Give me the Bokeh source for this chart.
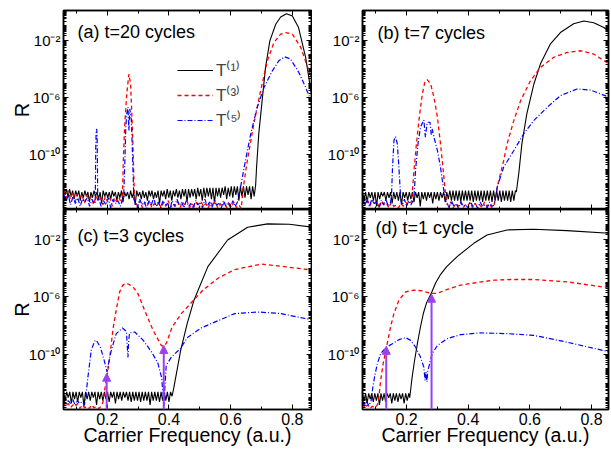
import numpy as np
from bokeh.plotting import figure
from bokeh.layouts import gridplot
from bokeh.models import (Range1d, FixedTicker, CustomJSTickFormatter, LinearAxis, LogAxis,
                          Legend, LegendItem, Label, Arrow, NormalHead, ColumnDataSource)
from bokeh.embed import file_html
from bokeh.resources import INLINE

# ---------------- data (log10 R values) ----------------
x_major_ticks = [0.2, 0.4, 0.6, 0.8]
x_minor_ticks = [0.1, 0.3, 0.5, 0.7]
y_major_exps = [-2, -6, -10]
panel_titles = ["(a) t=20 cycles", "(b) t=7 cycles", "(c) t=3 cycles", "(d) t=1 cycle"]
legend_labels = ["T\u207d\u00b9\u207e", "T\u207d\u00b3\u207e", "T\u207d\u2075\u207e"]
x_title = "Carrier Frequency (a.u.)"
y_title = "R"

# panel (a) t=20 cycles
A1_span = (0.058, 0.681)
A1_n = [-12.3, -12.8, -12.4, -13.0, -12.4, -12.9, -12.5, -13.1, -12.5, -12.9, -12.5, -13.2, -12.6, -13.0, -12.5, -12.9, -12.6, -13.3,
        -12.6, -13.0, -12.5, -12.9, -12.6, -13.1, -12.6, -13.4, -12.5, -12.9, -12.6, -13.0,
        -12.6, -13.1, -12.5, -12.9, -12.6, -13.2, -12.6, -13.0, -12.5, -13.3, -12.6, -12.9, -12.6, -13.1, -12.5, -13.0, -12.6, -13.5,
        -12.5, -12.9, -12.6, -13.1, -12.5, -13.0, -12.6, -13.2, -12.5, -12.9, -12.5, -13.1,
        -12.6, -13.0, -12.5, -13.4, -12.5, -12.9, -12.5, -13.1, -12.4, -13.0, -12.5, -13.2, -12.5, -12.9, -12.4, -13.0, -12.5, -13.1,
        -12.4, -12.9, -12.4, -13.3,
        -12.4, -13.0, -12.4, -12.9, -12.4, -13.1, -12.3, -12.9, -12.4, -13.2, -12.3, -13.0, -12.3, -12.9, -12.3, -13.1, -12.3, -13.4,
        -12.3, -12.9, -12.3, -13.0, -12.3, -12.8, -12.2, -13.1, -12.3, -12.9, -12.2, -13.0, -12.2, -12.8, -12.2, -13.2, -12.2, -12.9,
        -12.2, -13.0, -12.2, -12.8, -12.2, -13.1, -12.2, -12.9, -12.1]
A1_x = [0.684, 0.691, 0.702, 0.713, 0.727, 0.746, 0.762, 0.781, 0.800, 0.820, 0.843, 0.865]
A1_y = [-10.86, -8.54, -6.22, -3.90, -2.05, -0.89, -0.38, -0.15, -0.31, -1.12, -3.20, -6.22]

A3_span1 = (0.058, 0.246)
A3_n1 = [-12.4, -13.0, -12.5, -13.1, -12.6, -13.3, -12.7, -13.0, -12.8, -13.4, -12.8, -13.1, -12.9, -13.5, -12.9, -13.2, -13.0, -13.5,
         -12.9, -13.3, -13.0, -13.6, -13.0, -13.3, -13.0, -13.4]
A3_x1 = [0.249, 0.252, 0.256, 0.263, 0.270, 0.2755, 0.279, 0.283, 0.286, 0.288]
A3_y1 = [-13.0, -10.4, -8.1, -5.76, -4.37, -5.06, -6.9, -9.2, -11.56, -12.9]
A3_span2 = (0.291, 0.634)
A3_n2 = [-13.3, -13.6, -13.2, -13.7, -13.3, -13.5, -13.2, -13.7, -13.4, -13.6, -13.3, -13.75, -13.3, -13.6, -13.2, -13.7, -13.4, -13.6,
         -13.3, -13.7, -13.3, -13.5, -13.2, -13.7, -13.4, -13.6, -13.3, -13.75, -13.3, -13.6, -13.4, -13.7, -13.3, -13.6, -13.2, -13.7,
         -13.4, -13.6, -13.3, -13.75, -13.4, -13.6, -13.3, -13.7, -13.5, -13.75]
A3_x2 = [0.641, 0.654, 0.675, 0.697, 0.719, 0.740, 0.762, 0.778, 0.800, 0.827, 0.848, 0.865]
A3_y2 = [-12.25, -10.4, -7.84, -5.53, -3.44, -2.17, -1.58, -1.47, -1.58, -2.5, -3.8, -4.83]

A5_span1 = (0.058, 0.158)
A5_n1 = [-12.7, -13.3, -12.8, -13.5, -12.9, -13.4, -13.0, -13.6, -13.1, -13.3, -13.0, -13.6, -13.1, -13.4]
A5_x1 = [0.161, 0.1625, 0.164, 0.1655, 0.167, 0.168, 0.169]
A5_y1 = [-13.3, -9.5, -8.3, -8.2, -8.6, -10.5, -13.2]
A5_span2 = (0.172, 0.250)
A5_n2 = [-13.0, -13.6, -13.2, -13.5, -13.0, -13.7, -13.1, -13.4, -13.2, -13.6, -13.1]
A5_x2 = [0.253, 0.257, 0.260, 0.263, 0.267, 0.270, 0.273, 0.278, 0.281, 0.284, 0.286]
A5_y2 = [-13.0, -10.4, -8.1, -7.15, -6.69, -8.3, -6.8, -7.6, -9.5, -11.6, -13.1]
A5_span3 = (0.290, 0.622)
A5_n3 = [-13.3, -13.7, -13.1, -13.5, -13.3, -13.75, -13.2, -13.5, -13.0, -13.6, -13.3, -13.7, -13.2, -13.5, -13.4, -13.75, -13.2, -13.6,
         -13.1, -13.5, -13.3, -13.7, -13.2, -13.6, -13.4, -13.75, -13.2, -13.5, -13.3, -13.7, -13.1, -13.6, -13.3, -13.7, -13.2, -13.5,
         -13.4, -13.75, -13.2, -13.6, -13.3, -13.7, -13.2, -13.6, -13.3]
A5_x3 = [0.632, 0.648, 0.665, 0.686, 0.708, 0.735, 0.756, 0.775, 0.794, 0.821, 0.843, 0.865]
A5_y3 = [-12.25, -10.4, -8.54, -6.69, -5.3, -4.14, -3.44, -3.16, -3.32, -4.25, -5.3, -6.45]

# panel (b) t=7 cycles
B1_span = (0.057, 0.553)
B1_n = [-12.6, -13.1, -12.6, -13.3, -12.6, -13.0, -12.6, -13.2, -12.6, -13.6, -12.6, -13.1, -12.6, -12.9, -12.6, -13.2, -12.6, -13.0,
        -12.6, -13.4, -12.6, -13.1, -12.6, -13.2, -12.6, -13.5, -12.6, -13.0, -12.6, -13.2, -12.6, -13.1, -12.6, -13.3, -12.6, -13.0,
        -12.6, -13.6, -12.6, -13.1, -12.6, -13.2, -12.6, -13.0, -12.6, -13.4, -12.6, -13.1, -12.6, -13.2, -12.6, -13.0, -12.6, -13.3,
        -12.6, -13.1, -12.5, -13.2, -12.5, -13.2, -12.5, -13.2, -12.5, -13.3, -12.5, -13.2, -12.5, -13.2, -12.5, -13.2, -12.5, -13.3,
        -12.5, -13.2, -12.5, -13.2, -12.5, -13.3, -12.5, -13.2, -12.5, -13.2, -12.5, -13.3, -12.5, -13.2, -12.5, -13.2, -12.5, -13.3,
        -12.5, -13.2, -12.5, -13.2, -12.5, -13.3, -12.5, -13.2, -12.5]
B1_x = [0.556, 0.564, 0.574, 0.590, 0.613, 0.634, 0.666, 0.699, 0.742, 0.775, 0.807, 0.840, 0.860]
B1_y = [-12.6, -11.3, -9.24, -7.15, -5.06, -3.67, -2.28, -1.47, -0.85, -0.66, -0.78, -1.12, -1.45]

B3_span1 = (0.057, 0.213)
B3_n1 = [-13.0, -13.5, -13.1, -13.6, -13.2, -13.4, -13.3, -13.7, -13.2, -13.5, -13.4, -13.7, -13.3, -13.6, -13.5, -13.7, -13.4, -13.6,
         -13.3, -13.5, -13.3]
B3_x1 = [0.216, 0.224, 0.232, 0.240, 0.251, 0.259, 0.267, 0.278, 0.289, 0.300, 0.310, 0.319, 0.326, 0.332]
B3_y1 = [-13.3, -11.1, -9.24, -7.6, -5.76, -4.95, -4.76, -5.06, -6.0, -7.38, -9.24, -11.1, -12.7, -13.4]
B3_span2 = (0.336, 0.484)
B3_n2 = [-13.6, -13.3, -13.7, -13.4, -13.6, -13.3, -13.7, -13.5, -13.6, -13.3, -13.7, -13.4, -13.6, -13.5, -13.7, -13.3, -13.6, -13.4,
         -13.7, -13.5]
B3_x2 = [0.488, 0.499, 0.515, 0.526, 0.548, 0.570, 0.602, 0.634, 0.677, 0.721, 0.764, 0.807, 0.860]
B3_y2 = [-12.95, -11.8, -10.4, -9.24, -7.6, -6.22, -4.83, -3.9, -3.2, -2.86, -2.74, -2.97, -3.7]

B5_span1 = (0.057, 0.148)
B5_n1 = [-13.0, -13.5, -13.2, -13.6, -13.1, -13.4, -13.3, -13.7, -13.2, -13.5, -13.1, -13.6, -13.3]
B5_x1 = [0.151, 0.154, 0.159, 0.164, 0.170, 0.175, 0.180, 0.183]
B5_y1 = [-12.9, -11.1, -9.0, -8.73, -9.24, -10.86, -12.7, -13.3]
B5_span2 = (0.186, 0.221)
B5_n2 = [-13.5, -13.1, -13.6, -13.2, -13.5, -13.2]
B5_x2 = [0.224, 0.229, 0.237, 0.245, 0.256, 0.261, 0.267, 0.276, 0.280, 0.283, 0.289, 0.300, 0.310, 0.319, 0.326]
B5_y2 = [-13.0, -11.1, -9.24, -8.08, -7.57, -8.78, -7.73, -7.73, -8.6, -8.2, -8.78, -9.7, -10.86, -12.25, -13.1]
B5_span3 = (0.330, 0.485)
B5_n3 = [-13.4, -13.7, -13.2, -13.6, -13.4, -13.75, -13.3, -13.6, -13.5, -13.7, -13.3, -13.6, -13.4, -13.75, -13.3, -13.6, -13.5, -13.7,
         -13.3, -13.6, -13.5]
B5_x3 = [0.494, 0.515, 0.548, 0.580, 0.613, 0.656, 0.699, 0.753, 0.796, 0.860]
B5_y3 = [-12.25, -10.86, -9.7, -8.54, -7.6, -6.69, -5.87, -5.41, -5.48, -6.0]

# panel (c) t=3 cycles
C1_span = (0.058, 0.405)
C1_n = [-12.5, -13.2, -12.6, -13.0, -12.6, -13.4, -12.6, -13.1, -12.6, -13.3, -12.6, -13.0, -12.6, -13.6, -12.6, -13.1, -12.6, -13.2,
        -12.6, -13.0, -12.6, -13.5, -12.6, -13.1, -12.6, -13.2, -12.6, -13.1, -12.6, -13.3, -12.6, -13.0, -12.6, -13.4, -12.6, -13.1,
        -12.6, -13.2, -12.6, -13.0, -12.6, -13.2, -12.6, -13.3, -12.6, -13.2, -12.6, -13.2, -12.6, -13.3, -12.6, -13.2, -12.6, -13.2,
        -12.6, -13.5, -12.6, -13.2, -12.6, -13.2, -12.6, -13.3, -12.6, -13.2, -12.6, -13.2, -12.6, -13.3, -12.6]
C1_x = [0.410, 0.416, 0.438, 0.459, 0.481, 0.526, 0.590, 0.655, 0.720, 0.790, 0.865]
C1_y = [-12.9, -12.27, -9.7, -7.85, -6.23, -3.9, -2.05, -1.16, -0.93, -0.95, -1.16]

C3_span = (0.058, 0.180)
C3_n = [-13.3, -13.6, -13.4, -13.7, -13.5, -13.6, -13.4, -13.75, -13.5, -13.7, -13.6, -13.75, -13.5, -13.7, -13.6, -13.75, -13.6]
C3_x = [0.186, 0.191, 0.197, 0.208, 0.218, 0.229, 0.240, 0.250, 0.260, 0.272, 0.285, 0.300, 0.321, 0.348, 0.375, 0.383, 0.392,
        0.410, 0.440, 0.470, 0.510, 0.559, 0.613, 0.700, 0.775, 0.865]
C3_y = [-13.3, -12.5, -11.8, -10.2, -8.3, -6.9, -5.65, -5.2, -5.05, -5.15, -5.35, -5.8, -6.93, -8.3, -9.37, -9.45, -9.2,
        -8.1, -7.16, -6.46, -5.53, -4.7, -4.1, -3.72, -3.9, -4.14]

C5_span = (0.058, 0.126)
C5_n = [-13.1, -13.5, -13.2, -13.4, -13.1, -13.55, -13.2, -13.4, -13.3, -13.5]
C5_x = [0.130, 0.137, 0.148, 0.159, 0.164, 0.178, 0.191, 0.199, 0.206, 0.213, 0.229, 0.249, 0.262, 0.265, 0.267, 0.269, 0.272,
        0.289, 0.316, 0.343, 0.364, 0.376, 0.381, 0.384, 0.387, 0.391, 0.407, 0.436, 0.461, 0.505, 0.537, 0.613, 0.688, 0.760, 0.865]
C5_y = [-13.0, -11.6, -9.7, -9.07, -9.0, -9.5, -10.5, -11.2, -10.4, -9.7, -8.55, -8.16, -8.4, -9.5, -10.2, -9.2, -8.5,
        -8.44, -9.0, -9.8, -10.6, -11.6, -12.8, -13.6, -12.2, -10.76, -10.2, -9.6, -8.8, -8.15, -7.85, -7.16, -7.05, -7.15, -7.6]

# panel (d) t=1 cycle
D1_span = (0.057, 0.207)
D1_n = [-12.7, -13.2, -12.7, -13.4, -12.7, -13.1, -12.7, -13.3, -12.7, -13.2, -12.7, -13.5, -12.7, -13.2, -12.7, -13.3, -12.7, -13.0,
        -12.7, -13.4, -12.7, -13.2, -12.7, -13.3, -12.7, -13.1, -12.7, -13.4, -12.7, -13.2, -12.7]
D1_x = [0.210, 0.213, 0.218, 0.226, 0.235, 0.245, 0.255, 0.265, 0.280, 0.295, 0.310, 0.330, 0.364, 0.418, 0.461, 0.526, 0.612,
        0.720, 0.860]
D1_y = [-13.0, -12.5, -11.57, -10.4, -9.25, -8.09, -7.1, -6.4, -5.75, -5.0, -4.45, -3.9, -3.2, -2.28, -1.7, -1.35, -1.3, -1.4, -1.58]

D3_span = (0.057, 0.105)
D3_n = [-13.4, -13.7, -13.5, -13.75, -13.6, -13.7, -13.5]
D3_x = [0.108, 0.110, 0.116, 0.124, 0.135, 0.148, 0.159, 0.175, 0.197, 0.224, 0.251, 0.278, 0.299, 0.332, 0.375, 0.429, 0.483,
        0.537, 0.612, 0.720, 0.860]
D3_y = [-13.3, -12.97, -11.8, -10.64, -9.48, -8.09, -7.16, -6.23, -5.65, -5.53, -5.58, -5.76, -5.76, -5.48, -5.18, -5.0, -4.84,
        -4.79, -4.79, -4.95, -5.38]

D5_span = (0.057, 0.085)
D5_n = [-13.2, -13.6, -13.3, -13.55, -13.2]
D5_x = [0.089, 0.096, 0.105, 0.116, 0.132, 0.154, 0.175, 0.197, 0.213, 0.229, 0.245, 0.256, 0.260, 0.263, 0.266, 0.269, 0.272,
        0.283, 0.300, 0.332, 0.375, 0.440, 0.526, 0.612, 0.720, 0.860]
D5_y = [-12.5, -11.57, -10.64, -9.94, -9.53, -9.25, -8.97, -8.83, -9.02, -9.48, -10.18, -10.88, -11.8, -11.2, -11.9, -11.1, -10.88,
        -9.94, -9.37, -8.9, -8.62, -8.5, -8.55, -8.67, -9.14, -9.83]

# purple arrows (carrier frequency, log10 R at the tip)
C_arrow_x = [0.198, 0.383]
C_arrow_tip = [-11.3, -9.37]
D_arrow_x = [0.134, 0.281]
D_arrow_tip = [-9.43, -5.81]

# ---------------- styling ----------------
FONT = "Liberation Sans"
PURPLE = "#9b3ff2"
Y_LO, Y_HI = 10 ** -13.82, 10 ** 0.07
X_RANGE_L = (0.058, 0.862)
X_RANGE_R = (0.057, 0.855)
STYLES = [dict(line_color="black", line_width=1.1),
          dict(line_color="#ff0000", line_width=1.3, line_dash="4 3"),
          dict(line_color="#0000ff", line_width=1.2, line_dash="5 2 1 2")]


def build(*pieces):
    xs, ls = [], []
    for xpart, lpart in pieces:
        if isinstance(xpart, tuple):
            xpart = np.linspace(xpart[0], xpart[1], len(lpart))
        xs.extend(list(xpart))
        ls.extend(lpart)
    return np.array(xs), 10.0 ** np.array(ls)


series = [
    [build((A1_span, A1_n), (A1_x, A1_y)),
     build((A3_span1, A3_n1), (A3_x1, A3_y1), (A3_span2, A3_n2), (A3_x2, A3_y2)),
     build((A5_span1, A5_n1), (A5_x1, A5_y1), (A5_span2, A5_n2), (A5_x2, A5_y2), (A5_span3, A5_n3), (A5_x3, A5_y3))],
    [build((B1_span, B1_n), (B1_x, B1_y)),
     build((B3_span1, B3_n1), (B3_x1, B3_y1), (B3_span2, B3_n2), (B3_x2, B3_y2)),
     build((B5_span1, B5_n1), (B5_x1, B5_y1), (B5_span2, B5_n2), (B5_x2, B5_y2), (B5_span3, B5_n3), (B5_x3, B5_y3))],
    [build((C1_span, C1_n), (C1_x, C1_y)),
     build((C3_span, C3_n), (C3_x, C3_y)),
     build((C5_span, C5_n), (C5_x, C5_y))],
    [build((D1_span, D1_n), (D1_x, D1_y)),
     build((D3_span, D3_n), (D3_x, D3_y)),
     build((D5_span, D5_n), (D5_x, D5_y))],
]
arrows = [None, None, (C_arrow_x, C_arrow_tip), (D_arrow_x, D_arrow_tip)]
title_pos = [(14, 178), (15, 177), (14, 173.5), (13, 182)]

SUP_JS = """
const e = Math.round(Math.log10(tick));
const m = {"-": "\\u207b", "0": "\\u2070", "1": "\\u00b9", "2": "\\u00b2", "3": "\\u00b3",
           "4": "\\u2074", "5": "\\u2075", "6": "\\u2076", "7": "\\u2077", "8": "\\u2078", "9": "\\u2079"};
return "10" + String(e).split("").map((c) => m[c]).join("");
"""

y_minor = [m * 10.0 ** k for k in range(-14, 1) for m in range(1, 10)
           if not (m == 1 and k in y_major_exps)]
y_major = [10.0 ** k for k in y_major_exps]


def style_axis(ax, ticker, show, fmt=None, size="15px"):
    ax.ticker = ticker
    ax.major_tick_in = 5
    ax.major_tick_out = 0
    ax.minor_tick_in = 3
    ax.minor_tick_out = 0
    ax.axis_line_color = "black"
    ax.axis_line_width = 1.5
    ax.major_tick_line_color = "black"
    ax.minor_tick_line_color = "black"
    ax.major_tick_line_width = 1
    ax.minor_tick_line_width = 1
    ax.axis_label = None
    if show:
        if fmt is not None:
            ax.formatter = fmt
        ax.major_label_text_font = FONT
        ax.major_label_text_font_size = size
        ax.major_label_text_color = "black"
        ax.major_label_standoff = 3
    else:
        ax.formatter = CustomJSTickFormatter(code="return '';")
        ax.major_label_text_font_size = "0px"
        ax.major_label_standoff = 0


def set_axis_label(ax, text, size, standoff):
    ax.axis_label = text
    ax.axis_label_text_font = FONT
    ax.axis_label_text_font_size = size
    ax.axis_label_text_font_style = "normal"
    ax.axis_label_text_color = "black"
    ax.axis_label_standoff = standoff


def make_panel(i):
    left = i % 2 == 0
    top = i < 2
    fw = 248 if left else 246
    fh = 199 if top else 200
    xr = X_RANGE_L if left else X_RANGE_R
    p = figure(frame_width=fw, frame_height=fh, x_range=Range1d(*xr), y_range=Range1d(Y_LO, Y_HI),
               y_axis_type="log", output_backend="svg", toolbar_location=None,
               min_border_left=63 if left else 50, min_border_right=1 if left else 2,
               min_border_top=10 if top else 0, min_border_bottom=0 if top else 41)
    p.title.visible = False
    p.xgrid.visible = False
    p.ygrid.visible = False
    p.outline_line_color = "black"
    p.outline_line_width = 1.5
    p.background_fill_color = "white"
    p.border_fill_color = "white"

    xt = FixedTicker(ticks=x_major_ticks, minor_ticks=x_minor_ticks)
    yt = FixedTicker(ticks=y_major, minor_ticks=y_minor)
    style_axis(p.xaxis[0], xt, not top, size="16px")
    style_axis(p.yaxis[0], yt, True, fmt=CustomJSTickFormatter(code=SUP_JS), size="15px")
    if left:
        set_axis_label(p.yaxis[0], y_title, "20px", -7)
    if not top:
        set_axis_label(p.xaxis[0], x_title, "19.5px", -4)
    xa = LinearAxis()
    p.add_layout(xa, "above")
    style_axis(xa, FixedTicker(ticks=x_major_ticks, minor_ticks=x_minor_ticks), False)
    ya = LogAxis()
    p.add_layout(ya, "right")
    style_axis(ya, FixedTicker(ticks=y_major, minor_ticks=y_minor), False)

    rends = []
    for (xs, ys), st in zip(series[i], STYLES):
        rends.append(p.line(xs, ys, **st))

    if arrows[i] is not None:
        ax_x, ax_tip = arrows[i]
        src = ColumnDataSource(dict(x=ax_x, y0=[Y_LO] * len(ax_x), y1=[10.0 ** t for t in ax_tip]))
        p.add_layout(Arrow(end=NormalHead(size=8, fill_color=PURPLE, line_color=PURPLE, line_width=1),
                           x_start="x", y_start="y0", x_end="x", y_end="y1", source=src,
                           line_color=PURPLE, line_width=2))

    tx, ty = title_pos[i]
    p.add_layout(Label(x=tx, y=ty, x_units="screen", y_units="screen", text=panel_titles[i],
                       text_font=FONT, text_font_size="18px", text_baseline="alphabetic", text_align="left",
                       text_color="black"))
    if i == 0:
        leg = Legend(items=[LegendItem(label=lab, renderers=[r]) for lab, r in zip(legend_labels, rends)],
                     location=(114, 78), padding=0, margin=0, spacing=2, glyph_width=36, glyph_height=20,
                     label_height=20, label_standoff=3, label_text_font=FONT, label_text_font_size="17px",
                     background_fill_alpha=0, border_line_alpha=0)
        p.add_layout(leg)
    return p


panels = [make_panel(i) for i in range(4)]
grid = gridplot([[panels[0], panels[1]], [panels[2], panels[3]]], toolbar_location=None)

with open("out.html", "w", encoding="utf-8") as f:
    f.write(file_html(grid, INLINE))
